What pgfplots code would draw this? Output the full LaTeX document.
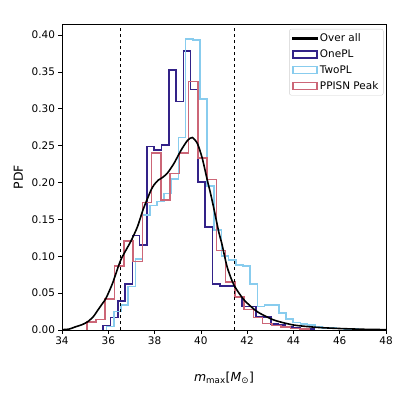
\documentclass[border=0pt]{standalone}
\usepackage{fontspec}
\setmainfont{DejaVu Sans}
\usepackage{pgfplots}
\pgfplotsset{compat=1.18}
\usetikzlibrary{calc}

\definecolor{onepl}{HTML}{332288}
\definecolor{twopl}{HTML}{88CCEE}
\definecolor{ppisn}{HTML}{CC6677}

\pgfplotsset{
  curveleg/.style={legend image code/.code={\fill[black, sharp corners] (0bp,-0.85bp) rectangle (24bp,0.85bp);}},
  hist/.style={const plot, legend image code/.code={\draw[##1, sharp corners, line width=1.6pt] (0bp,-3.5bp) rectangle (24bp,3.5bp);}},
}

\begin{document}
\begin{tikzpicture}[x=1bp,y=1bp]
\begin{axis}[
    scale only axis, width=324bp, height=306bp,
    xmin=34, xmax=48, ymin=0, ymax=0.415,
    xtick={34,36,...,48},
    ytick={0,0.05,...,0.40},
    yticklabel style={/pgf/number format/.cd, fixed, fixed zerofill, precision=2},
    /pgf/number format/assume math mode=true,
    tick align=outside, tick pos=left,
    major tick length=3.5bp,
    axis line style={line width=0.6pt},
    every tick/.style={black, line width=0.6pt},
    ticklabel style={font=\fontsize{10.5}{12}\selectfont},
    xlabel={\textit{m}\textsubscript{max}[\textit{M}\textsubscript{⊙}]},
    ylabel={PDF},
    label style={font=\fontsize{12.5}{14}\selectfont},
    xlabel style={at={(axis description cs:0.5,-0.157)}, anchor=center},
    ylabel style={at={(axis description cs:-0.135,0.5)}, anchor=center},
    legend style={at={(rel axis cs:1,1)}, xshift=-2.5bp, yshift=-5bp, anchor=north east,
        draw=black!18, rounded corners=2pt,
        font=\fontsize{10.5}{12}\selectfont, row sep=2.6bp, inner xsep=3bp, inner ysep=2.5bp,
        fill=white},
    legend cell align=left,
    every axis plot/.append style={line width=1.6pt},
    clip=true,
]
\addlegendimage{black, curveleg}
\addlegendentry{Over all}

\addplot[onepl, hist] coordinates {
(35.780,0) (35.780,0.006) (36.095,0.017) (36.410,0.039) (36.725,0.062)
(37.040,0.128) (37.355,0.115) (37.670,0.249) (37.985,0.244) (38.300,0.251)
(38.615,0.353) (38.930,0.310) (39.245,0.378) (39.560,0.326) (39.875,0.201)
(40.190,0.140) (40.505,0.062) (40.820,0.060) (41.135,0.060) (41.450,0.045)
(41.765,0.032) (42.080,0.032) (42.395,0.018) (42.710,0.018) (43.025,0.008)
(43.340,0.007) (43.655,0.004) (43.970,0.003) (44.285,0.002) (44.600,0.001)
(44.915,0)};
\addlegendentry{OnePL}

\addplot[twopl, hist] coordinates {
(35.93,0) (35.93,0.005) (36.24,0.025) (36.55,0.034) (36.86,0.059)
(37.17,0.096) (37.48,0.156) (37.79,0.169) (38.10,0.174) (38.41,0.185)
(38.72,0.205) (39.03,0.261) (39.34,0.395) (39.65,0.393) (39.96,0.313)
(40.27,0.195) (40.58,0.136) (40.89,0.100) (41.20,0.095) (41.51,0.088)
(41.82,0.087) (42.13,0.062) (42.44,0.032) (42.75,0.034) (43.06,0.034)
(43.37,0.023) (43.68,0.015) (43.99,0.010) (44.30,0.008) (44.61,0.007)
(44.92,0.005) (45.23,0.003) (45.54,0.003) (45.85,0.002) (46.16,0.001)
(46.47,0.001) (46.78,0)};
\addlegendentry{TwoPL}

\addplot[ppisn, hist] coordinates {
(35.07,0) (35.07,0.011) (35.47,0.014) (35.87,0.042) (36.27,0.087)
(36.67,0.121) (37.07,0.093) (37.47,0.173) (37.87,0.240) (38.27,0.176)
(38.67,0.212) (39.07,0.240) (39.47,0.337) (39.87,0.233) (40.27,0.204)
(40.67,0.108) (41.07,0.065) (41.47,0.045) (41.87,0.028) (42.27,0.017)
(42.67,0.009) (43.07,0.006) (43.47,0.004) (43.87,0.002) (44.27,0.001)
(44.67,0)};
\addlegendentry{PPISN Peak}

\addplot[black, smooth, tension=0.4, forget plot] coordinates {
(34.0,0.0005) (34.3,0.0012) (34.6,0.0045) (34.85,0.007) (35.1,0.011)
(35.35,0.018) (35.55,0.027) (35.75,0.036) (35.9,0.043) (36.18,0.063)
(36.54,0.095) (36.97,0.120) (37.26,0.140) (37.5,0.163) (37.69,0.178)
(37.85,0.190) (37.98,0.197) (38.15,0.203) (38.35,0.207) (38.56,0.213)
(38.84,0.226) (39.13,0.243) (39.42,0.257) (39.63,0.261) (39.85,0.253)
(40.06,0.233) (40.28,0.203) (40.42,0.185) (40.56,0.165) (40.78,0.132)
(40.9,0.118) (41.14,0.085) (41.43,0.061) (41.86,0.041) (42.43,0.025)
(43.15,0.0136) (44.0,0.0068) (45.0,0.0036) (46.0,0.002) (47.0,0.001)
(48.0,0.0005)};

\addplot[black, dashed, line width=0.7pt, forget plot] coordinates {(36.54,0) (36.54,0.415)};
\addplot[black, dashed, line width=0.7pt, forget plot] coordinates {(41.45,0) (41.45,0.415)};

\coordinate (sw) at (rel axis cs:0,0);
\coordinate (ne) at (rel axis cs:1,1);
\end{axis}
\path ($(sw)+(-62bp,-69bp)$) rectangle ($(ne)+(13bp,24bp)$);
\end{tikzpicture}
\end{document}
